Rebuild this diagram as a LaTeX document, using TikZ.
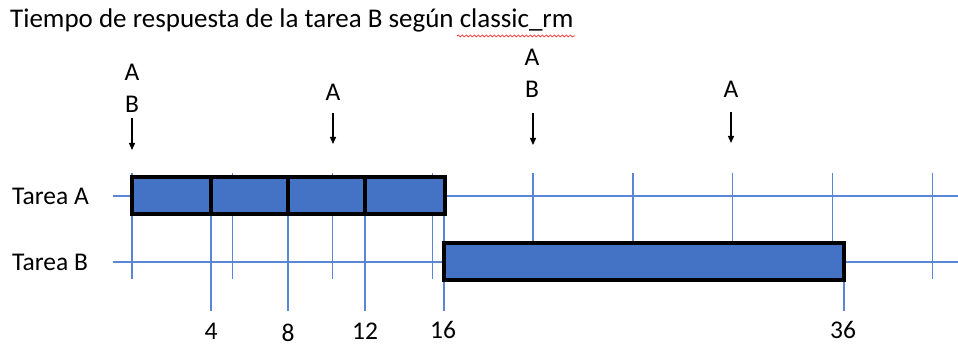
\documentclass[tikz,border=0pt]{standalone}
\usepackage{fontspec}
\setmainfont{Carlito}
\usetikzlibrary{arrows.meta,decorations.pathmorphing}
\definecolor{officeblue}{HTML}{4472C4}
\definecolor{gridblue}{HTML}{5B86D6}
\tikzset{
  gridline/.style={draw=gridblue, line width=1.4pt},
  taskbox/.style={draw=black, line width=4pt, fill=officeblue},
  lbl/.style={font=\fontsize{25.5}{28}\selectfont, inner sep=0pt},
  evt/.style={-{Triangle[length=7pt,width=6pt]}, line width=1.3pt, black, shorten >=0pt}
}
\begin{document}
\begin{tikzpicture}[x=1pt,y=-1pt]
\useasboundingbox (0,0) rectangle (958,347);
% title
\node[anchor=west, font=\fontsize{27}{30}\selectfont, inner sep=0pt] (title) at (10,20) {Tiempo de respuesta de la tarea B según classic\_rm};
\draw[red!85, line width=0.7pt, decorate, decoration={snake, amplitude=1pt, segment length=4pt}] (457,36) -- (575,36);
% horizontal row lines
\draw[gridline] (113,196) -- (958,196);
\draw[gridline] (113,262) -- (958,262);
% regular vertical grid lines
\foreach \x in {132,232.5,332.5,432.5,533,633,732.5,832.5,932.5}
  \draw[gridline] (\x,173) -- (\x,279);
% long tick lines
\foreach \x in {211,288,365,444}
  \draw[gridline] (\x,214) -- (\x,311);
\draw[gridline] (844,280) -- (844,311);
% Tarea A boxes
\draw[taskbox] (132,177) rectangle (211,214);
\draw[taskbox] (211,177) rectangle (288,214);
\draw[taskbox] (288,177) rectangle (365,214);
\draw[taskbox] (365,177) rectangle (445,214);
% Tarea B box
\draw[taskbox] (444,243) rectangle (844,280);
% row labels
\node[lbl, anchor=west] (ta) at (12,196) {Tarea A};
\node[lbl, anchor=west] (tb) at (12,262) {Tarea B};
% tick labels
\node[lbl] (t4) at (211,331) {4};
\node[lbl] (t8) at (288,333) {8};
\node[lbl] (t12) at (365,331) {12};
\node[lbl] (t16) at (443,330) {16};
\node[lbl] (t36) at (843,330) {36};
% events
\node[lbl] (a0) at (132,72) {A};
\node[lbl] (b0) at (132,104) {B};
\coordinate (s0) at (132,118); \coordinate (e0) at (132,150);
\draw[evt] (s0) -- (e0);
\node[lbl] (a1) at (333,92) {A};
\coordinate (s1) at (333,113); \coordinate (e1) at (333,144);
\draw[evt] (s1) -- (e1);
\node[lbl] (a2) at (532,57) {A};
\node[lbl] (b2) at (532,89) {B};
\coordinate (s2) at (533,113); \coordinate (e2) at (533,145);
\draw[evt] (s2) -- (e2);
\node[lbl] (a3) at (731,89) {A};
\coordinate (s3) at (731,112); \coordinate (e3) at (731,143);
\draw[evt] (s3) -- (e3);
\end{tikzpicture}
\end{document}
